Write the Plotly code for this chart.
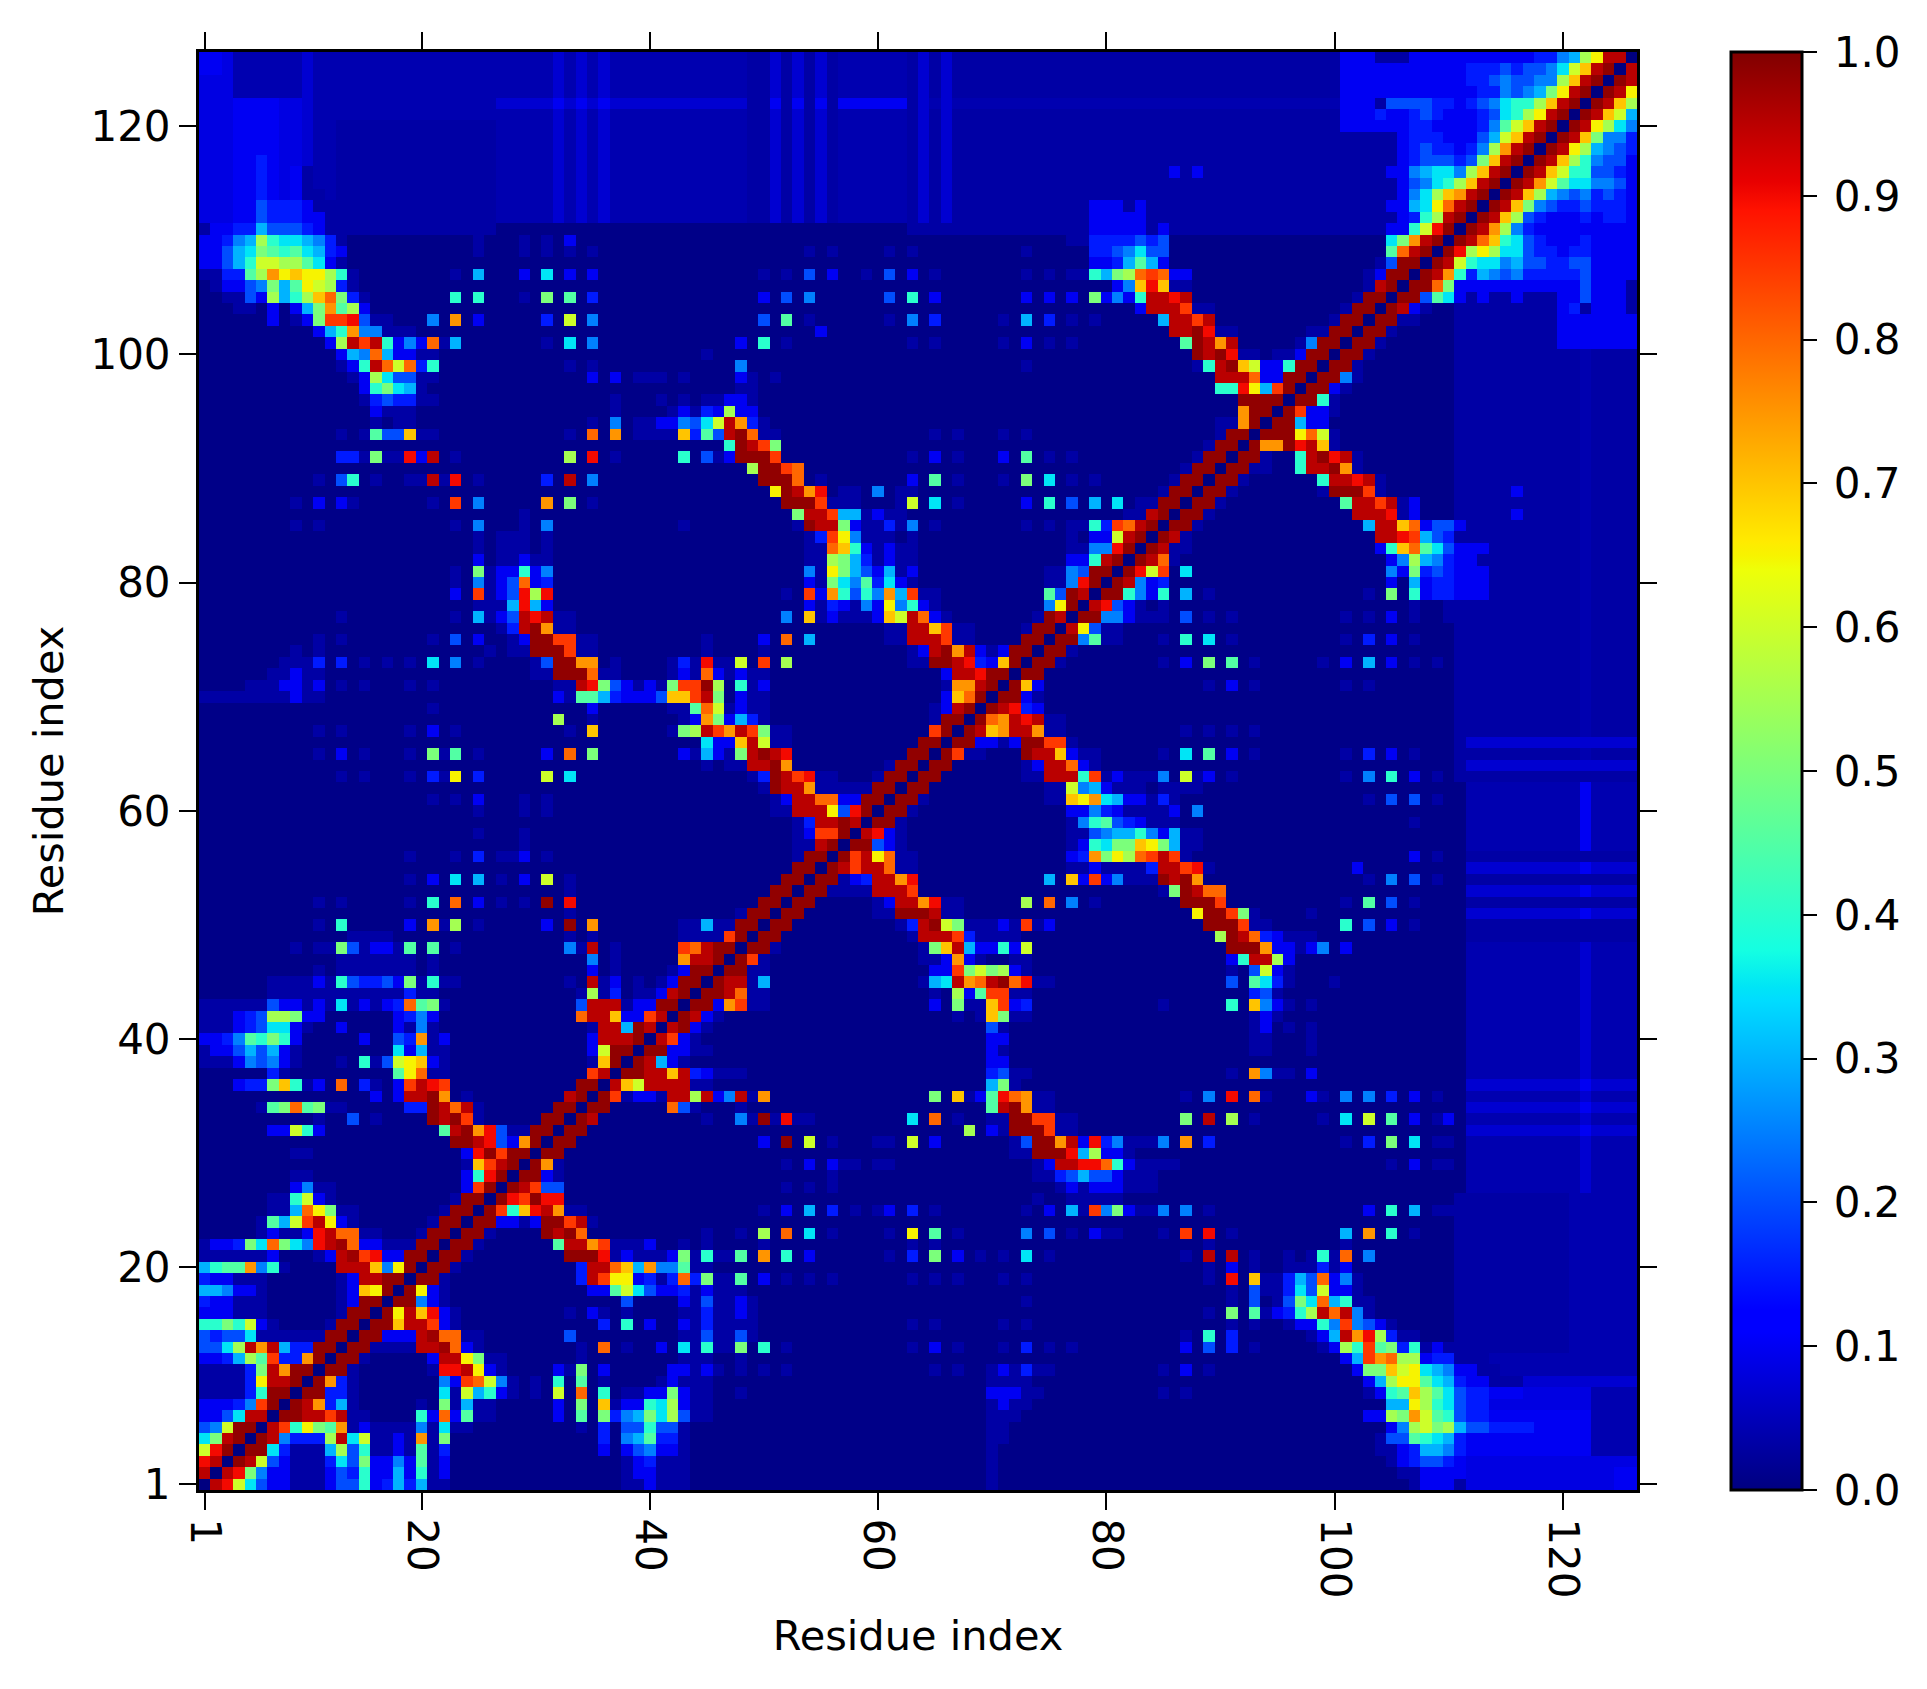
import plotly.graph_objects as go

N_RESIDUES = 126
BACKGROUND = 0.007
DIAGONAL = 0.0
TICK_VALUES = [1, 20, 40, 60, 80, 100, 120]
TICK_LABELS = ["1", "20", "40", "60", "80", "100", "120"]
BAR_TICKS = [0.0, 0.1, 0.2, 0.3, 0.4, 0.5, 0.6, 0.7, 0.8, 0.9, 1.0]

# letter code of the read-off values
LEVELS = {"a": 0.0, "w": 0.018, "b": 0.032, "x": 0.042, "y": 0.07, "z": 0.085, "c": 0.1, "d": 0.15,
          "e": 0.2, "f": 0.25, "g": 0.3, "h": 0.35, "i": 0.4, "j": 0.45, "k": 0.5, "l": 0.55,
          "m": 0.6, "n": 0.65, "o": 0.7, "p": 0.75, "q": 0.8, "r": 0.85, "s": 0.9, "t": 0.95,
          "v": 0.975, "u": 0.985}

# soft background regions: first row, last row, first col, last col, level
SOFT_REGIONS = [
    (1, 2, 111, 124, "z"), (1, 2, 125, 126, "c"), (3, 3, 111, 126, "z"),
    (4, 7, 111, 122, "c"), (4, 7, 123, 126, "x"), (8, 9, 111, 122, "z"), (8, 9, 123, 126, "x"),
    (10, 10, 111, 126, "y"), (11, 12, 111, 126, "x"),
    (13, 26, 111, 120, "b"), (13, 26, 121, 126, "x"),
    (27, 48, 112, 126, "x"), (27, 48, 122, 122, "y"),
    (49, 56, 112, 126, "b"), (57, 62, 112, 126, "x"), (57, 62, 122, 122, "c"),
    (63, 84, 111, 126, "b"), (78, 84, 114, 126, "b"), (85, 104, 111, 126, "b"),
    (65, 100, 122, 122, "x"), (101, 103, 120, 126, "c"),
    (32, 32, 112, 126, "y"), (34, 34, 112, 126, "y"), (36, 36, 112, 126, "y"),
    (51, 51, 112, 126, "y"), (53, 53, 112, 126, "y"), (55, 55, 112, 126, "y"),
    (64, 64, 112, 126, "y"), (66, 66, 112, 126, "y"),
    (32, 32, 122, 122, "c"), (34, 34, 122, 122, "c"), (36, 36, 122, 122, "c"),
    (51, 51, 122, 122, "c"), (53, 53, 122, 122, "c"), (55, 55, 122, 122, "c"),
]

# row | first col : letters of the consecutive cells (row <= col, the map is symmetric)
BLOCK_LOW_LEFT = [
    "1|2:tsmheccbbbceeicdgdgbb 38:bbcbb",
    "2|3:tskfccbbbcediccgcibc 38:bccbb",
    "3|4:utmecbbbdhekccfcjbc 38:bcdbb",
    "4|5:uuhdbbbgleibbcbjbd 36:c 38:cefcc",
    "5|6:utfdddlthmbbcbpbk 36:d 38:fgjdd",
    "6|7:trinkjpbcbbbbfbhbb 34:b 36:d 38:eeiee",
    "7|8:uuttrtbb 20:icqcjbb 32:c 34:j 36:kdfgkhl",
    "8|9:utpdgb 20:b 22:kbgbb 32:c 34:k 36:obccihl",
    "9|10:uuddb 22:hbmgicb 30:b 32:m 34:q 36:i 38:bbcck",
    "10|11:updb 22:fcrqmfb 30:b 32:i 34:j 36:b 41:bc",
    "11|12:uub 21:bsstncb 32:cb 34:k 36:c 42:c",
    "12|13:uub 21:cttnkbb 34:b",
    "13|14:uubbbb 20:ttvqcb 34:b 36:q 38:b 41:c",
    "14|15:uuccc 20:tvqqbb 33:e",
    "15|16:uuottrcb 36:d 38:i 40:c",
    "16|17:untoscb 33:b 35:cb 38:b",
    "17|18:uufcb 38:e",
    "18|19:uncb 35:ccjmhecc",
    "19|20:uub 34:dtrnncdbd",
    "20|21:uub 34:dttqogpff",
    "21|22:uub 33:uuusbcbbbc",
    "22|23:uub 32:jttprbbbc",
    "23|24:uub 31:utuq",
    "24|25:uuccbcuurtb",
    "25|26:uriostpbb",
    "26|27:usruss",
    "27|28:utree",
    "28|29:uucb",
    "29|30:upb",
    "30|31:uu",
    "31|32:uu",
    "32|33:uu",
    "33|34:ut",
    "34|35:uu 42:q",
    "35|36:urbccbt",
    "36|37:tomttt",
    "37|38:uutto",
    "38|39:utgc",
    "39|40:uuc",
    "40|41:tr",
    "41|42:t",
]

BLOCK_LOW_MIDDLE = [
    "42|43:utcb 67:b 69:b 70:okbb",
    "41|43:ucb 70:eb",
    "40|43:cb 70:cc",
    "39|43:cbb 70:cb",
    "38|43:b 70:cc",
    "37|43:tdcbbb 70:debb",
    "36|43:tbb 70:gkb",
    "35|43:tltcftbp 65:k 67:obc 70:jsqpbb",
    "34|43:eb 48:b 70:jtupbb",
    "33|45:b 48:fbubsbb 63:h 65:q 67:b 70:bbuurrbb",
    "32|68:l 70:cbuuurbb",
    "31|50:c 52:u 54:m 56:b 60:bb 63:m 65:c 72:beuuptcsdfbbb",
    "30|72:bbuuusglccb",
    "29|52:b 54:c 56:cbb 60:bb 74:bcttssqicbb",
    "28|56:b 74:bbdegeecbbb",
    "27|52:b 54:b 56:b 76:bcbcccbbb",
    "26|74:b 77:bbbbb",
    "25|50:b 52:c 54:g 56:d 58:b 60:bc 63:d 65:b 73:b 75:c 77:gbrfkcbb",
    "23|45:b 48:b 50:l 52:q 54:h 56:b 61:b 63:n 65:j 67:b 73:f 75:e 77:b 79:cbb",
    "22|43:b 45:b 50:b 63:b 65:b",
    "21|43:kbibbj 50:p 52:i 54:c 61:b 63:d 65:k 67:c 69:b 71:b 73:h 75:b",
    "20|43:jbb",
    "19|43:qdkbbj 50:c 52:b 54:b 56:b 63:b 65:b 67:b 71:b 73:b",
    "18|43:dbcbbb",
    "17|43:cbebbcb 73:b",
    "16|43:bbdbbcb",
    "15|43:cbdbbbb 63:b 65:b 71:b 73:b",
    "14|43:bbebbeb",
    "13|43:hbibbk 50:i 52:b 63:b 65:c 67:b 71:b 73:d 75:b 77:b",
    "12|43:bbb 48:b",
    "11|43:cbcb 48:b 50:b 52:b 65:b 67:b 70:bcbdbb",
    "10|43:bbb 70:bbbb",
    "9|43:cbb 48:b 70:cccbb",
    "8|43:cbb 70:bcbb",
    "7|43:ebb 70:bbb",
    "6|43:b 70:bb",
    "5|43:b 70:bb",
    "4|43:b 70:b",
    "3|43:b 70:b",
    "2|43:b 70:b",
    "1|43:b 70:b",
]

BLOCK_LOW_RIGHT = [
    "42|93:bcb",
    "41|93:bc 96:b 98:b",
    "40|93:bb 98:b",
    "39|93:bb 98:b",
    "37|91:b 93:pfbb 98:c",
    "35|87:b 89:f 91:s 93:qb 98:cb 101:f 103:f 105:d 107:c 109:b",
    "33|87:k 89:t 91:l 93:b 99:b 101:h 103:m 105:j 107:c 109:bc",
    "31|85:f 87:p 89:d 101:b 103:d 105:k 107:h 109:bb",
    "29|85:bb 105:b 107:c 109:bb",
    "25|85:f 87:f 89:b 103:c 105:i 107:g 109:bb",
    "23|85:b 87:r 89:s 91:b 101:g 103:p 105:i 107:b",
    "22|89:b 101:b",
    "21|87:b 89:t 91:t 93:b 96:b 98:bibq 103:f",
    "20|89:b 91:c 93:b 96:bbbdbc",
    "19|89:b 91:s 93:obbdgeqcfb",
    "18|91:b 93:ebbdhemccb",
    "17|91:b 93:e 95:bekhqgibb",
    "16|89:b 91:k 93:jbcdiltqtfb",
    "15|91:b 93:b 96:bccifrfecb",
    "14|87:b 89:i 91:d 98:bcgtpsldbb",
    "13|87:c 89:e 91:d 93:b 99:bclirjkdibcb",
    "12|101:cgrpqllcddbbb",
    "11|85:b 87:c 89:b 102:ckkomnhgfccbb",
    "10|103:cglnnjhgdccbbb",
    "9|85:b 87:b 103:bcijoljheddccc",
    "8|105:ggnlihedd",
    "7|103:cclkpmjiedd",
    "6|105:cflmklgeedddd",
    "5|104:beejihgd",
    "4|104:bbcdggfd",
    "3|105:bcdeedc",
    "2|106:bbcccc",
    "1|107:bcccb",
]

BLOCK_MID_MIDDLE = [
    "43|44:uucprbb 65:c 67:kbborcd",
    "44|45:uutqbb 65:b 67:lcjrrbb",
    "45|46:uttbg 64:bghtpqtuqsbb",
    "46|47:uubb 65:ccrkmklcb",
    "47|48:urb 64:bbcpcb 72:bb",
    "48|49:uub 64:bkotgccicm",
    "49|50:uu 63:btttrdbbbb",
    "50|51:uu 62:bdtumkbbbcbrbc",
    "51|52:uu 60:bbuuutbb",
    "52|53:uu 60:bcttpsbb 73:l 75:q 77:f 79:b",
    "53|54:uubbbbtttr",
    "54|55:uubcdttps 75:g 77:ocrcfbbb",
    "55|56:utrttqbb 77:bbcbbbbd",
    "56|57:urtnqbb 77:cdpknlqr",
    "57|58:uuecb 77:bcihkkon",
    "58|59:tscb 77:bbefggif",
    "59|60:uub 77:bfijedcb",
    "60|61:uub 77:ccfdcbbb",
    "61|62:uub 75:bbonphgccb",
    "62|63:uu 75:bbmfgcbbb",
    "63|64:uu 73:bbtttirbcbbb",
    "64|65:uu 73:bcttqcb",
    "65|66:urbb 73:uttocbb",
    "66|67:uuccbcuurrb",
    "67|68:utopttpbb",
    "68|69:uqptstbb",
    "69|70:utsdc",
    "70|71:uucb",
    "71|72:uoc",
    "72|73:uu",
    "73|74:uub",
    "74|75:uub",
    "75|76:uufjbb",
    "76|77:tnebb",
    "77|78:uuffcbb",
    "78|79:tsecb",
    "79|80:uuifc",
    "80|81:utfc",
    "81|82:usm",
    "82|83:ut",
    "83|84:u",
]

BLOCK_MID_RIGHT = [
    "43|85:b 91:i 93:ofcb 98:b",
    "44|93:deb",
    "45|91:e 93:jhdb 100:b",
    "46|91:b 93:emcb",
    "47|91:cittlc",
    "48|91:uuupccbcf 101:c",
    "49|90:lutqdcbbb",
    "50|89:uuurbb 101:i 103:e 105:c 107:b",
    "51|88:nuurkb 98:b",
    "52|87:uuur 101:b 103:j 105:e 107:b",
    "53|85:bkutqq",
    "54|85:utup 103:b 105:f 107:e 109:b",
    "55|85:ttrsb 102:c",
    "56|85:trb 107:c 109:b",
    "57|85:kgbb",
    "58|85:cgbb",
    "59|85:bb 107:b",
    "60|85:bc 88:f",
    "61|85:db 103:b 105:e 107:e 109:b",
    "62|85:bbbb",
    "63|85:f 87:mbc 91:b 101:b 103:f 105:i 107:c 109:b",
    "65|85:b 87:h 89:j 91:c 93:b 101:b 103:d 105:c 107:b",
    "67|87:b 89:b 91:b 93:b",
    "71|89:b 91:c 93:b 101:b 103:b",
    "73|85:b 87:c 89:k 91:j 93:b 99:b 101:c 103:g 105:c 107:b 109:b",
    "75|85:b 87:i 89:h 91:b 101:b 103:d 105:c 107:b",
    "77|85:b 87:e 89:b 91:b 101:b 103:b 105:c 107:b 110:b 112:b",
    "78|85:b 107:b 110:b 112:b",
    "79|85:i 87:g 89:b 103:b 105:k 107:icddccc",
    "80|85:d 105:c 107:gcddccc",
    "81|85:r 87:h 105:fckdedcccb",
    "82|85:qb 105:cflgfdccb",
    "83|85:tbb 104:cioqjhecccb",
    "84|85:utb 104:ttsrgedbb",
]

BLOCK_TOP_RIGHT = [
    "85|86:uub 103:gttoqceecbb",
    "86|87:uub 102:tttsbc 116:c",
    "87|88:uub 101:jttrtbc",
    "88|89:uub 99:buuurb 116:c",
    "89|90:uub 99:ittstb",
    "90|91:uubb 97:ittupb",
    "91|92:uub 97:itustb",
    "92|93:uppustob",
    "93|94:uuunqmb",
    "94|95:uugcc",
    "95|96:urccb",
    "96|97:uuib",
    "97|98:uucb",
    "98|99:uufb",
    "99|100:uub",
    "100|101:uub",
    "101|102:uub",
    "102|103:uub",
    "103|104:uubb 120:cc 123:ccc",
    "104|105:utcb 120:cd 123:ccc",
    "105|106:uuejhcbcbbcbbb 120:ccecccb",
    "106|107:uuqk 111:ccccccccccc 122:ecccb",
    "107|108:utpidgfefdddddecccc",
    "108|109:utmihhfgeeddeecccc",
    "109|110:uslnlhheddcddcccc",
    "110|111:utqoihedcccdcccc",
    "111|112:utplfdccccccccc",
    "112|113:utoledcccdcddc",
    "113|114:utokfeddedddc",
    "114|115:utolgfefdedc",
    "115|116:utpmjhhffec",
    "116|117:utomiieedc",
    "117|118:utolifeec",
    "118|119:utnlgfed",
    "119|120:utokffd",
    "120|121:utnlhf",
    "121|122:utomg",
    "122|123:utol",
    "123|124:utn",
    "124|125:ut",
    "125|126:t",
]

JET = [
    [0.0, "rgb(0,0,128)"], [0.11, "rgb(0,0,255)"], [0.125, "rgb(0,0,255)"], [0.34, "rgb(0,220,255)"],
    [0.35, "rgb(0,229,246)"], [0.375, "rgb(20,255,226)"], [0.64, "rgb(238,255,8)"], [0.65, "rgb(247,243,0)"],
    [0.66, "rgb(255,234,0)"], [0.89, "rgb(255,18,0)"], [0.91, "rgb(232,0,0)"], [1.0, "rgb(128,0,0)"],
]

residues = list(range(1, N_RESIDUES + 1))
z = [[BACKGROUND] * N_RESIDUES for _ in residues]


def put(row, col, letter):
    z[row - 1][col - 1] = LEVELS[letter]
    z[col - 1][row - 1] = LEVELS[letter]


for r0, r1, c0, c1, letter in SOFT_REGIONS:
    for r in range(r0, r1 + 1):
        for c in range(c0, c1 + 1):
            put(r, c, letter)

for block in (BLOCK_LOW_LEFT, BLOCK_LOW_MIDDLE, BLOCK_LOW_RIGHT,
              BLOCK_MID_MIDDLE, BLOCK_MID_RIGHT, BLOCK_TOP_RIGHT):
    for line in block:
        row_text, segments = line.split("|")
        for segment in segments.split():
            col_text, letters = segment.split(":")
            for k, letter in enumerate(letters):
                put(int(row_text), int(col_text) + k, letter)

for r in residues:
    z[r - 1][r - 1] = DIAGONAL

FONT = "DejaVu Sans"
TICK_SIZE = 42
TITLE_SIZE = 41.5
fig = go.Figure(go.Heatmap(
    x=residues, y=residues, z=z, zmin=0, zmax=1, colorscale=JET,
    colorbar=dict(
        x=1.0651, xanchor="left", xpad=0, y=0.5, yanchor="middle", ypad=0, len=1.0,
        thickness=71, outlinewidth=3, outlinecolor="black",
        tickmode="array", tickvals=BAR_TICKS, ticktext=[f"\u2009{v:.1f}" for v in BAR_TICKS],
        ticks="outside", ticklen=14, tickwidth=2, tickcolor="black",
        tickfont=dict(family=FONT, size=TICK_SIZE, color="black"),
    ),
))
axis = dict(
    range=[0.5, 126.5], tickmode="array", tickvals=TICK_VALUES, ticktext=TICK_LABELS,
    ticks="outside", ticklen=17, tickwidth=2, tickcolor="black", showline=True, linewidth=3,
    linecolor="black", mirror="ticks", showgrid=False, zeroline=False,
    tickfont=dict(family=FONT, size=TICK_SIZE, color="black"),
    automargin=False,
)
fig.update_xaxes(axis, tickangle=90, title=dict(text="Residue index", font=dict(family=FONT, size=TITLE_SIZE, color="black"), standoff=24))
fig.update_yaxes(axis, title=dict(text="Residue index", font=dict(family=FONT, size=TITLE_SIZE, color="black"), standoff=14))
fig.update_layout(
    width=1911, height=1673, autosize=False,
    margin=dict(l=191, r=282, t=44, b=191, pad=0),
    paper_bgcolor="white", plot_bgcolor="white",
)
fig.write_html("out.html")
